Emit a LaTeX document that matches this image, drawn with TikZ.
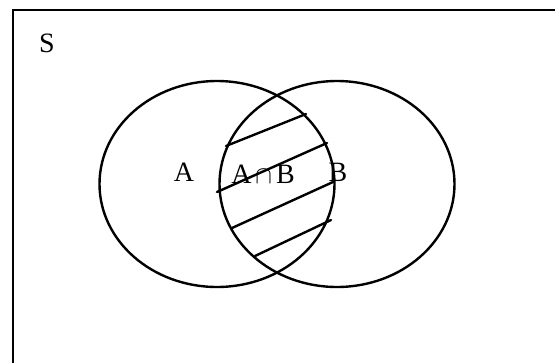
\documentclass[tikz,border=0pt]{standalone}
\usepackage{fontspec}
\setmainfont{Liberation Serif}
\usetikzlibrary{shapes.geometric}
\tikzset{
  venn/.style={draw=black, line width=2.4pt, ellipse, inner sep=0pt, minimum width=235pt, minimum height=206pt},
  hatch/.style={draw=black, line width=2.4pt, line cap=round},
  lbl/.style={inner sep=0pt, font=\fontsize{28}{32}\selectfont},
}
\begin{document}
\begin{tikzpicture}[x=1pt,y=-1pt]
\useasboundingbox (0,0) rectangle (555,362);
\clip (0,0) rectangle (555,362);
\draw[line width=2.8pt] (13,10) rectangle (575,380);
\node[venn] (A) at (217,184) {};
\node[venn] (B) at (337,184) {};
\draw[hatch] (226,146) -- (306,114);
\draw[hatch] (217,192) -- (327,143);
\draw[hatch] (232,228) -- (333,182);
\draw[hatch] (255,256) -- (331,220);
\node[lbl] (S) at (47,43) {S};
\node[lbl] (la) at (184,172) {A};
\node[lbl] (lab) at (263,174) {A\kern4pt{\fontsize{34}{34}\selectfont$\cap$}\kern4ptB};
\node[lbl] (lb) at (338,172) {B};
\end{tikzpicture}
\end{document}
